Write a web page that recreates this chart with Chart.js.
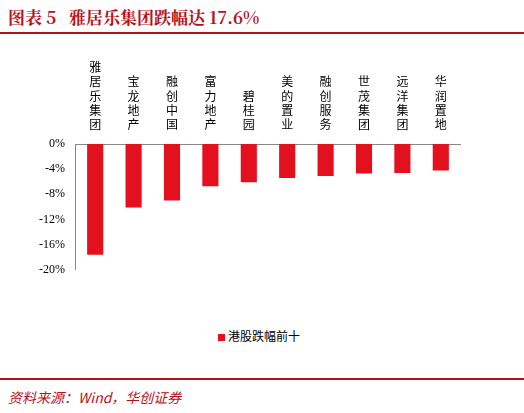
<!DOCTYPE html><html><head><meta charset="utf-8">
<script src="https://cdn.jsdelivr.net/npm/chart.js@4"></script>
<style>body{margin:0;width:524px;height:413px;background:#fff;position:relative;font-family:"Noto Sans CJK SC";}
#t{position:absolute;left:8px;top:4px;font-size:17px;font-weight:bold;color:#b5121b;font-family:"Noto Serif CJK SC","Noto Sans CJK SC";}
#l1{position:absolute;left:0;top:32px;width:524px;height:2px;background:#b5121b;}
#l2{position:absolute;left:0;top:378px;width:524px;height:2px;background:#b5121b;}
#s{position:absolute;left:8px;top:387px;font-size:14px;font-style:italic;color:#b5121b;}
#lg{position:absolute;left:218px;top:327px;font-size:12px;color:#000;}
#lg span{display:inline-block;width:7px;height:7px;background:#e3101e;margin-right:3px;}
#c{position:absolute;left:0;top:56px;width:524px;height:224px;}</style></head><body>
<div id="t">图表 5&nbsp;&nbsp;&nbsp;雅居乐集团跌幅达 17.6%</div><div id="l1"></div>
<div id="c"><canvas id="cv"></canvas></div>
<div id="lg"><span></span>港股跌幅前十</div>
<div id="l2"></div><div id="s">资料来源：Wind，华创证券</div>
<script>
const categories=["雅居乐集团","宝龙地产","融创中国","富力地产","碧桂园","美的置业","融创服务","世茂集团","远洋集团","华润置地"];
const values=[-17.6,-10.1,-9.0,-6.7,-6.1,-5.4,-5.1,-4.7,-4.6,-4.2];
const seriesName="港股跌幅前十";
new Chart(document.getElementById('cv'),{type:'bar',
data:{labels:categories.map(s=>s.split('')),datasets:[{label:seriesName,data:values,backgroundColor:'#e3101e',barPercentage:0.42,categoryPercentage:1}]},
options:{responsive:true,maintainAspectRatio:false,animation:false,
layout:{padding:{left:36,right:64,top:0,bottom:0}},
plugins:{legend:{display:false}},
scales:{x:{position:'top',grid:{display:false},border:{color:'#888'},ticks:{color:'#000',font:{size:12,family:'Noto Sans CJK SC'},maxRotation:0,autoSkip:false,padding:4}},
y:{min:-20,max:0,ticks:{stepSize:2,callback:v=>v+'%',color:'#000',font:{size:12,family:'Times New Roman, Liberation Serif'}},grid:{display:false},border:{color:'#888'}}}}});
</script></body></html>
